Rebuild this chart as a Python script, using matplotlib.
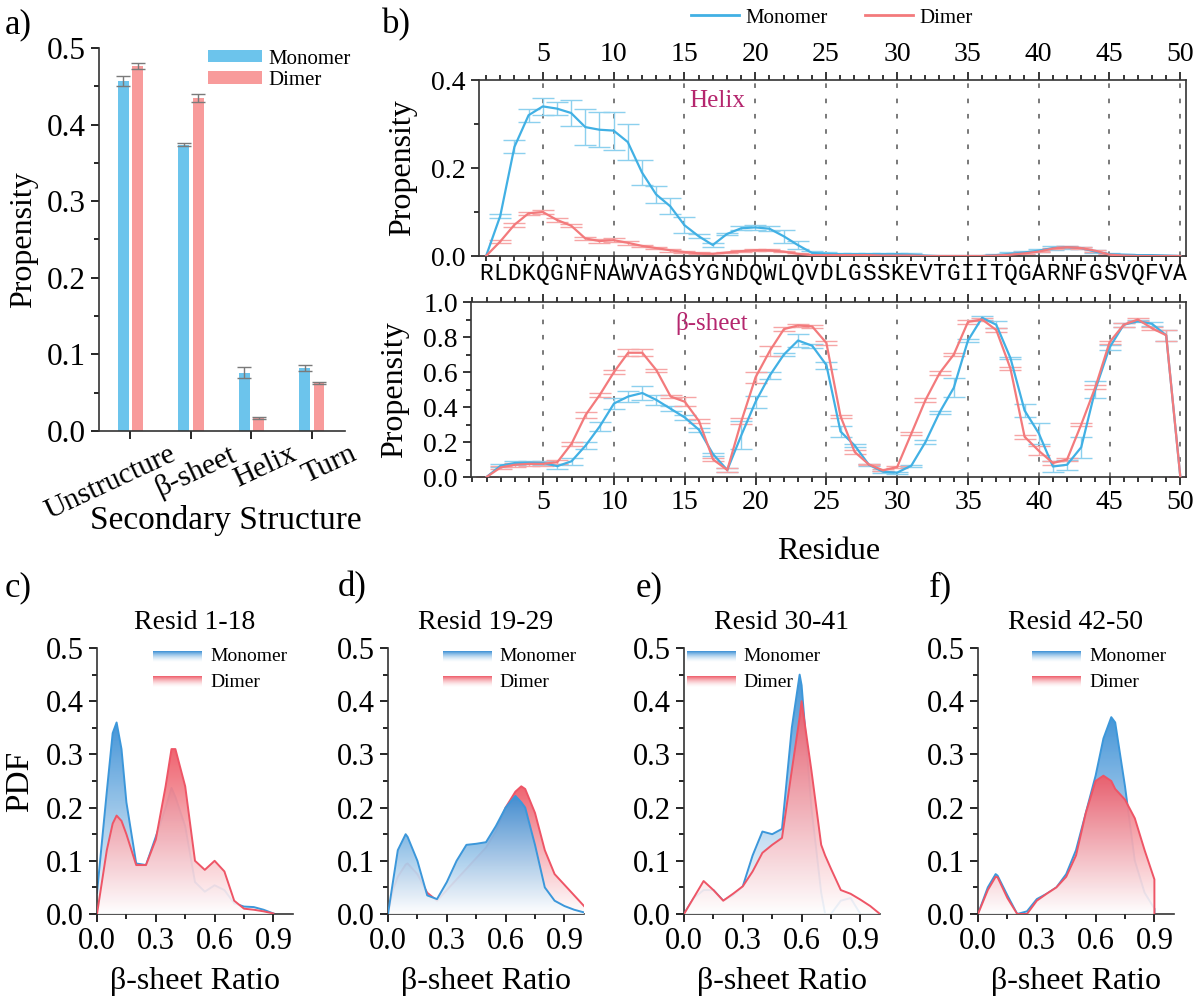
import numpy as np
import matplotlib
matplotlib.use("Agg")
import matplotlib.pyplot as plt
import matplotlib.transforms as mtrans
from matplotlib.patches import Polygon
from matplotlib.lines import Line2D
from matplotlib.colors import LinearSegmentedColormap, to_rgb
from matplotlib.ticker import MultipleLocator

plt.rcParams['font.family'] = ['Liberation Serif', 'DejaVu Serif']
plt.rcParams['axes.linewidth'] = 1.2
plt.rcParams['axes.edgecolor'] = '#333333'

# ---- panel a: overall secondary structure
ss_names = ["Unstructure", "β-sheet", "Helix", "Turn"]
ss_mono = [0.457, 0.374, 0.076, 0.082]
ss_mono_err = [0.007, 0.002, 0.007, 0.004]
ss_dim = [0.476, 0.435, 0.017, 0.063]
ss_dim_err = [0.004, 0.005, 0.001, 0.001]

# ---- panel b: per residue propensities
seq = "RLDKQGNFNAWVAGSYGNDQWLQVDLGSSKEVTGIITQGARNFGSVQFVA"
residues = np.arange(1, 51)
helix_mono = [0.0, 0.091, 0.248, 0.32, 0.34, 0.335, 0.325, 0.293, 0.287, 0.285,
              0.259, 0.19, 0.14, 0.113, 0.07, 0.045, 0.025, 0.05, 0.063, 0.065,
              0.062, 0.045, 0.025, 0.007, 0.005, 0.004, 0.004, 0.004, 0.004, 0.004,
              0.003, 0.001, 0.0, 0.0, 0.0, 0.0, 0.002, 0.005, 0.008, 0.012,
              0.018, 0.02, 0.018, 0.01, 0.004, 0.003, 0.002, 0.002, 0.001, 0.0]
helix_mono_err = [0, 0.005, 0.015, 0.015, 0.02, 0.015, 0.03, 0.04, 0.04, 0.043,
                  0.04, 0.028, 0.02, 0.018, 0.018, 0.005, 0.004, 0.003, 0.005, 0.006,
                  0.006, 0.015, 0.01, 0.004, 0.004, 0.003, 0.003, 0.003, 0.003, 0.003,
                  0.003, 0, 0, 0, 0, 0, 0.002, 0.003, 0.003, 0.004,
                  0.004, 0.003, 0.003, 0.003, 0.002, 0.002, 0.001, 0.001, 0.001, 0]
helix_dim = [0.0, 0.033, 0.071, 0.097, 0.10, 0.082, 0.069, 0.04, 0.034, 0.036,
             0.030, 0.023, 0.018, 0.013, 0.009, 0.006, 0.005, 0.008, 0.011, 0.013,
             0.013, 0.010, 0.005, 0.002, 0.002, 0.002, 0.002, 0.002, 0.001, 0.001,
             0.001, 0.0, 0.0, 0.0, 0.0, 0.0, 0.001, 0.003, 0.006, 0.01,
             0.017, 0.02, 0.018, 0.012, 0.003, 0.001, 0.0, 0.0, 0.0, 0.0]
helix_dim_err = [0, 0.004, 0.004, 0.004, 0.004, 0.004, 0.004, 0.004, 0.004, 0.004,
                 0.004, 0.003, 0.003, 0.003, 0.003, 0.002, 0.002, 0.002, 0.002, 0.002,
                 0.002, 0.002, 0.002, 0.001, 0.001, 0.001, 0.001, 0.001, 0.001, 0.001,
                 0.001, 0, 0, 0, 0, 0, 0.001, 0.002, 0.002, 0.002,
                 0.002, 0.002, 0.002, 0.002, 0.001, 0.001, 0, 0, 0, 0]
beta_mono = [0.0, 0.065, 0.08, 0.082, 0.08, 0.062, 0.09, 0.18, 0.29, 0.42,
             0.46, 0.48, 0.44, 0.39, 0.34, 0.27, 0.13, 0.04, 0.24, 0.43,
             0.58, 0.70, 0.78, 0.75, 0.64, 0.26, 0.18, 0.07, 0.03, 0.025,
             0.065, 0.20, 0.37, 0.51, 0.78, 0.91, 0.87, 0.68, 0.38, 0.25,
             0.06, 0.07, 0.17, 0.50, 0.74, 0.87, 0.89, 0.875, 0.81, 0.0]
beta_mono_err = [0, 0.01, 0.01, 0.01, 0.01, 0.015, 0.02, 0.02, 0.025, 0.03,
                 0.03, 0.04, 0.03, 0.015, 0.015, 0.01, 0.01, 0.01, 0.08, 0.035,
                 0.02, 0.01, 0.035, 0.01, 0.02, 0.03, 0.01, 0.005, 0.005, 0.005,
                 0.005, 0.01, 0.01, 0.055, 0.01, 0.01, 0.02, 0.005, 0.035, 0.06,
                 0.03, 0.03, 0.06, 0.05, 0.015, 0.01, 0.005, 0.01, 0.03, 0]
beta_dim = [0.0, 0.055, 0.07, 0.075, 0.075, 0.085, 0.19, 0.355, 0.47, 0.60,
            0.71, 0.71, 0.61, 0.46, 0.43, 0.32, 0.10, 0.04, 0.32, 0.57,
            0.72, 0.845, 0.866, 0.86, 0.766, 0.347, 0.143, 0.072, 0.038, 0.057,
            0.248, 0.44, 0.594, 0.70, 0.886, 0.90, 0.84, 0.62, 0.23, 0.15,
            0.08, 0.10, 0.30, 0.514, 0.77, 0.87, 0.90, 0.85, 0.81, 0.0]
beta_dim_err = [0, 0.01, 0.01, 0.01, 0.01, 0.01, 0.01, 0.015, 0.01, 0.01,
                0.02, 0.02, 0.01, 0.01, 0.025, 0.01, 0.01, 0.01, 0.015, 0.03,
                0.03, 0.01, 0.01, 0.01, 0.01, 0.01, 0.01, 0.005, 0.005, 0.005,
                0.01, 0.01, 0.01, 0.01, 0.01, 0.01, 0.01, 0.01, 0.01, 0.025,
                0.01, 0.01, 0.01, 0.01, 0.01, 0.01, 0.01, 0.01, 0.03, 0]

# ---- panels c-f: beta-sheet ratio PDFs
pdf_titles = ["Resid 1-18", "Resid 19-29", "Resid 30-41", "Resid 42-50"]
c_x = [0, 0.05, 0.08, 0.1, 0.125, 0.15, 0.2, 0.25, 0.3, 0.35, 0.38, 0.4, 0.45,
       0.5, 0.55, 0.6, 0.65, 0.7, 0.75, 0.8, 0.85, 0.9]
c_mono = [0.04, 0.23, 0.34, 0.36, 0.31, 0.21, 0.095, 0.092, 0.145, 0.20, 0.237,
          0.22, 0.165, 0.06, 0.042, 0.054, 0.045, 0.02, 0.014, 0.013, 0.008, 0.001]
c_dim = [0.0, 0.12, 0.17, 0.185, 0.175, 0.15, 0.092, 0.092, 0.14, 0.24, 0.31,
         0.31, 0.24, 0.10, 0.083, 0.10, 0.08, 0.025, 0.01, 0.008, 0.005, 0.001]
d_x = [0, 0.025, 0.05, 0.09, 0.1, 0.15, 0.2, 0.25, 0.3, 0.35, 0.4, 0.45, 0.5,
       0.55, 0.6, 0.65, 0.68, 0.7, 0.75, 0.8, 0.85, 0.9, 0.95, 1.0]
d_mono = [0, 0.06, 0.12, 0.15, 0.145, 0.10, 0.035, 0.028, 0.06, 0.10, 0.13,
          0.132, 0.135, 0.165, 0.20, 0.222, 0.21, 0.20, 0.13, 0.05, 0.025, 0.015,
          0.008, 0.003]
d_dim = [0, 0.045, 0.07, 0.093, 0.095, 0.075, 0.04, 0.025, 0.045, 0.065, 0.085,
         0.105, 0.125, 0.155, 0.20, 0.23, 0.24, 0.235, 0.19, 0.12, 0.075, 0.055,
         0.035, 0.015]
e_x = [0, 0.05, 0.1, 0.15, 0.2, 0.25, 0.3, 0.35, 0.4, 0.45, 0.5, 0.55, 0.59,
       0.6, 0.65, 0.7, 0.72, 0.75, 0.8, 0.85, 0.9, 0.95, 1.0]
e_mono = [0, 0.03, 0.045, 0.045, 0.025, 0.035, 0.052, 0.11, 0.155, 0.15, 0.16,
          0.35, 0.45, 0.43, 0.2, 0.04, 0.0, 0.0, 0.025, 0.03, 0.0, 0.0, 0.0]
e_dim = [0, 0.031, 0.062, 0.045, 0.025, 0.038, 0.052, 0.08, 0.115, 0.13, 0.143,
         0.27, 0.37, 0.40, 0.27, 0.13, 0.11, 0.085, 0.045, 0.038, 0.027, 0.015, 0.0]
f_x = [0, 0.05, 0.09, 0.1, 0.15, 0.2, 0.25, 0.3, 0.35, 0.4, 0.45, 0.5, 0.55,
       0.6, 0.64, 0.68, 0.7, 0.75, 0.8, 0.85, 0.9, 0.9]
f_mono = [0, 0.05, 0.075, 0.072, 0.035, 0.0, 0.005, 0.028, 0.038, 0.05, 0.075,
          0.12, 0.19, 0.26, 0.33, 0.37, 0.36, 0.24, 0.10, 0.04, 0.01, 0.0]
f_dim = [0, 0.045, 0.07, 0.069, 0.03, 0.0, 0.0, 0.025, 0.038, 0.05, 0.07,
         0.11, 0.19, 0.25, 0.26, 0.25, 0.235, 0.215, 0.18, 0.12, 0.065, 0.0]
pdf_x = [c_x, d_x, e_x, f_x]
pdf_mono = [c_mono, d_mono, e_mono, f_mono]
pdf_dim = [c_dim, d_dim, e_dim, f_dim]
mono_on_top = [False, True, False, False]

BAR_BLUE = '#6CC4EC'
BAR_RED = '#F89B9B'
LINE_BLUE = '#41B0E4'
LINE_RED = '#F37A7C'
PDF_BLUE = '#3A8FD5'
PDF_RED = '#EF5B68'
LABEL_PINK = '#B5266E'

W, H = 1200, 1005
fig = plt.figure(figsize=(W / 100, H / 100), dpi=100)


def px_axes(l, t, r, b):
    return fig.add_axes([l / W, 1 - b / H, (r - l) / W, (b - t) / H])


# ================= a =================
ax = px_axes(99, 48, 345, 431)
xc = np.arange(len(ss_names))
bw = 0.18
ekw = dict(ecolor='#7a7a7a', elinewidth=1, capthick=1)
ax.bar(xc - 0.12, ss_mono, bw, color=BAR_BLUE, yerr=ss_mono_err, capsize=5,
       error_kw=ekw, label='Monomer')
ax.bar(xc + 0.12, ss_dim, bw, color=BAR_RED, yerr=ss_dim_err, capsize=5,
       error_kw=ekw, label='Dimer')
ax.set_xlim(-0.52, 3.55)
ax.set_ylim(0, 0.5)
ax.yaxis.set_minor_locator(MultipleLocator(0.05))
ax.set_yticks([0, 0.1, 0.2, 0.3, 0.4, 0.5])
ax.set_yticklabels(['0.0', '0.1', '0.2', '0.3', '0.4', '0.5'])
ax.set_xticks(xc)
ax.set_xticklabels([])
offset = mtrans.ScaledTranslation(0.38, -0.1, fig.dpi_scale_trans)
for i, name in enumerate(ss_names):
    ax.text(xc[i], 0, name, transform=ax.get_xaxis_transform() + offset, rotation=25,
            ha='right', va='top', rotation_mode='anchor', fontsize=21.5)
for s in ['top', 'right']:
    ax.spines[s].set_visible(False)
ax.tick_params(axis='both', which='major', labelsize=22.5, length=6, width=1.2)
ax.tick_params(axis='y', which='minor', length=3.5, width=1.2)
ax.set_ylabel('Propensity', fontsize=23, labelpad=6)
fig.text(226 / W, 1 - 521 / H, 'Secondary Structure', fontsize=24, ha='center', va='center')
ax.legend(loc='upper right', bbox_to_anchor=(1.1, 1.045), frameon=False, fontsize=15,
          handlelength=2.6, handleheight=0.55, handletextpad=0.3, labelspacing=0.1)
fig.text(5 / W, 1 - 25 / H, 'a)', fontsize=25, va='center')

# ================= b =================
axt = px_axes(479, 80, 1186, 256)
axb = px_axes(471, 302, 1186, 477)
for a_, ym in [(axt, 0.4), (axb, 1.0)]:
    for r in range(5, 51, 5):
        a_.axvline(r, color='#555555', lw=1.1, ls=(0, (3, 7)), zorder=0)
    a_.set_ylim(0, ym)
    a_.yaxis.set_minor_locator(MultipleLocator(0.1))
    a_.xaxis.set_minor_locator(MultipleLocator(1))
    a_.tick_params(axis='both', which='major', labelsize=20, length=6, width=1.1,
                   direction='out')
    a_.tick_params(axis='both', which='minor', length=3.5, width=1.1, direction='out')
    a_.tick_params(axis='x', which='both', top=True, bottom=True)
    a_.set_ylabel('Propensity', fontsize=23, labelpad=10)
    a_.set_xticks(range(5, 51, 5))
axt.set_xlim(0.5, 50.4)
axb.set_xlim(-0.1, 50.4)
axt.tick_params(axis='x', which='both', labeltop=True, labelbottom=False)
axt.set_yticks([0, 0.2, 0.4])
axt.set_yticklabels(['0.0', '0.2', '0.4'])
axb.set_yticks([0, 0.2, 0.4, 0.6, 0.8, 1.0])
axb.set_yticklabels(['0.0', '0.2', '0.4', '0.6', '0.8', '1.0'])

for a_, mono, me, dim, de in [(axt, helix_mono, helix_mono_err, helix_dim, helix_dim_err),
                              (axb, beta_mono, beta_mono_err, beta_dim, beta_dim_err)]:
    a_.errorbar(residues, mono, yerr=me, fmt='none', ecolor='#8CD0EE', elinewidth=1,
                capsize=8, capthick=1, zorder=2)
    a_.errorbar(residues, dim, yerr=de, fmt='none', ecolor='#F6A5A5', elinewidth=1,
                capsize=8, capthick=1, zorder=2)
    a_.plot(residues, mono, color=LINE_BLUE, lw=1.6, zorder=3)
    a_.plot(residues, dim, color=LINE_RED, lw=1.6, zorder=3)

axt.text(17.3, 0.352, 'Helix', color=LABEL_PINK, fontsize=18, ha='center', va='center')
axb.text(16.9, 0.88, 'β-sheet', color=LABEL_PINK, fontsize=18, ha='center', va='center')
axb.set_xlabel('Residue', fontsize=23, labelpad=16)

seq_tr = mtrans.blended_transform_factory(axt.transData, axt.transAxes)
for i, ch in enumerate(seq):
    axt.text(residues[i], -0.1, ch, transform=seq_tr, fontsize=16.5, ha='center',
             va='center', family='Liberation Mono')

handles = [Line2D([], [], color=LINE_BLUE, lw=2), Line2D([], [], color=LINE_RED, lw=2)]
fig.legend(handles, ['Monomer', 'Dimer'], loc='center', bbox_to_anchor=(832 / W, 1 - 18 / H),
           ncol=2, frameon=False, fontsize=15, handlelength=2.3, columnspacing=1.8,
           handletextpad=0.3)
fig.text(382 / W, 1 - 25 / H, 'b)', fontsize=25, va='center')


# ================= c-f =================
def grad_cmap(color, a0=0.9, a1=0.95):
    rgb = to_rgb(color)
    return LinearSegmentedColormap.from_list('g', [(1, 1, 1, a0), (*rgb, a1)])


def grad_area(ax, x, y, color, line, z):
    x = np.asarray(x, float)
    y = np.asarray(y, float)
    verts = np.column_stack([np.r_[x[0], x, x[-1]], np.r_[0, y, 0]])
    clip = Polygon(verts, closed=True, fc='none', ec='none')
    ax.add_patch(clip)
    im = ax.imshow(np.linspace(0, 1, 256).reshape(-1, 1), cmap=grad_cmap(color),
                   origin='lower', aspect='auto', interpolation='bilinear',
                   extent=[x.min(), x.max(), 0, y.max()], zorder=z)
    im.set_clip_path(clip)
    ax.plot(x, y, color=line, lw=1.4, zorder=z + 0.5)


pdf_lefts = [97, 388, 684, 978]
leg_x0 = [0.286, 0.28, 0.015, 0.277]
panel_labels = ['c)', 'd)', 'e)', 'f)']
panel_lab_x = [5, 338, 636, 929]
for k in range(4):
    ax = px_axes(pdf_lefts[k], 648, pdf_lefts[k] + 196, 914)
    layers = [(pdf_mono[k], PDF_BLUE, '#3C97DA'), (pdf_dim[k], PDF_RED, '#EE5566')]
    if mono_on_top[k]:
        layers = layers[::-1]
    for j, (yy, col, lc) in enumerate(layers):
        grad_area(ax, pdf_x[k], yy, col, lc, 2 + 2 * j)
    # legend drawn as gradient swatches
    for j, (lab, col) in enumerate([('Monomer', PDF_BLUE), ('Dimer', PDF_RED)]):
        y1 = 0.494 - j * 0.048
        ax.imshow(np.linspace(0, 1, 64).reshape(-1, 1), cmap=grad_cmap(col, 0.3, 1.0),
                  origin='lower', aspect='auto',
                  extent=[leg_x0[k], leg_x0[k] + 0.25, y1 - 0.02, y1], zorder=10)
        ax.text(leg_x0[k] + 0.29, y1 - 0.01, lab, fontsize=14, va='center', ha='left',
                zorder=11)
    ax.set_xlim(0, 1.0)
    ax.set_ylim(0, 0.5)
    ax.set_xticks([0, 0.3, 0.6, 0.9])
    ax.set_xticklabels(['0.0', '0.3', '0.6', '0.9'])
    ax.xaxis.set_minor_locator(MultipleLocator(0.15))
    ax.set_yticks([0, 0.1, 0.2, 0.3, 0.4, 0.5])
    ax.set_yticklabels(['0.0', '0.1', '0.2', '0.3', '0.4', '0.5'])
    ax.yaxis.set_minor_locator(MultipleLocator(0.05))
    for s in ['top', 'right']:
        ax.spines[s].set_visible(False)
    ax.tick_params(axis='both', which='major', labelsize=22, length=6, width=1.2)
    ax.tick_params(axis='both', which='minor', length=3.5, width=1.2)
    ax.set_title(pdf_titles[k], fontsize=20, pad=14)
    ax.set_xlabel('β-sheet Ratio', fontsize=23, labelpad=8)
    if k == 0:
        ax.set_ylabel('PDF', fontsize=24, labelpad=8)
    fig.text(panel_lab_x[k] / W, 1 - 588 / H, panel_labels[k], fontsize=25, va='center')

fig.savefig('out.png', dpi=100)
